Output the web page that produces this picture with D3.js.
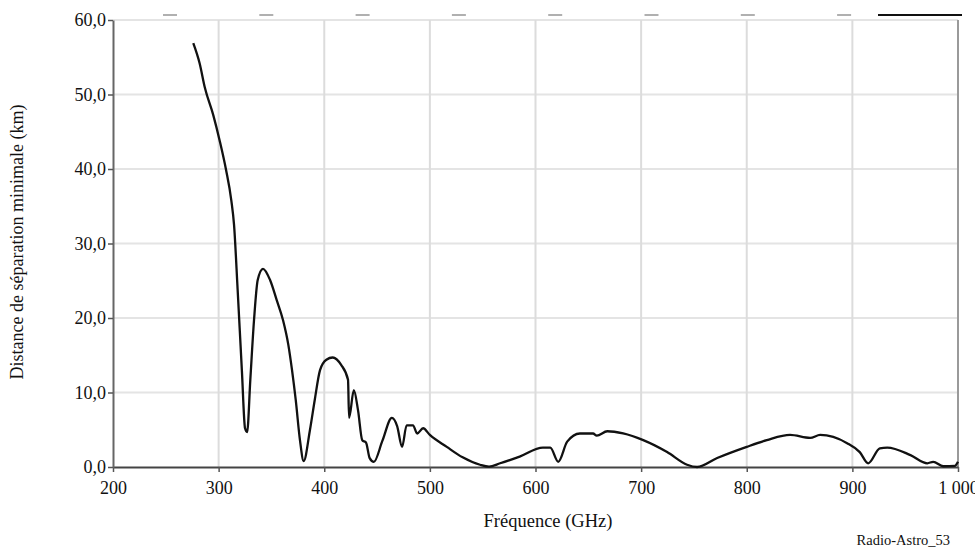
<!DOCTYPE html>
<html>
<head>
<meta charset="utf-8">
<script src="https://cdn.jsdelivr.net/npm/d3@7"></script>
<style>
  body { margin: 0; background: #fff; overflow: hidden; }
  svg text { font-family: "Liberation Serif", "Times New Roman", serif !important; }
</style>
</head>
<body>
<div class="visHolder"></div>
<script>
// frequency (GHz) and minimum separation distance (km)
const freq = [276, 282, 287, 295, 301, 307, 312, 314.6, 318, 322, 325, 327, 330, 333.5, 337, 342,
  348.7, 355, 361, 366, 369.5, 373, 377, 380.5, 386.5, 391, 396, 402, 408, 416, 422.5, 423.5, 428,
  432, 436, 439.5, 443, 447, 455, 464, 469, 473.7, 478, 484, 488, 493.6, 500, 516, 531, 547.5, 556,
  566.5, 585, 607, 614, 621.5, 630, 642, 654.5, 658, 668, 683, 702, 724.6, 743.5, 753, 772, 800,
  819, 841, 860, 869.5, 895, 907, 915, 926, 933, 955, 971, 976.5, 986, 997, 1000];
const dist = [56.9, 54.2, 50.9, 47.2, 43.8, 39.9, 35.8, 32.5, 23.8, 13, 5.2, 4.7, 11.7, 19.7, 25.1, 26.6,
  25.1, 22.4, 19.7, 16.4, 13, 9, 3.6, 0.8, 5, 9, 13, 14.4, 14.7, 13.7, 11.7, 6.6, 10.3,
  7.6, 3.6, 3.3, 1.2, 0.7, 3.5, 6.6, 5.5, 2.7, 5.6, 5.6, 4.5, 5.2, 4.3, 2.7, 1.3, 0.3, 0.05,
  0.5, 1.4, 2.6, 2.6, 0.7, 3.4, 4.5, 4.5, 4.2, 4.8, 4.5, 3.6, 2.0, 0.3, 0.0, 1.2, 2.7,
  3.6, 4.3, 3.9, 4.3, 3.2, 2.0, 0.5, 2.5, 2.6, 1.6, 0.5, 0.7, 0.1, 0.15, 0.7];

const xTicks = [200, 300, 400, 500, 600, 700, 800, 900, 1000];
const yTicks = [0, 10, 20, 30, 40, 50, 60];

const w = 975;
const h = 549;
const margin = { top: 20, right: 17, bottom: 82, left: 113 };
const serif = "'Liberation Serif', 'Times New Roman', serif";

const xScale = d3.scaleLinear()
  .domain([200, 1000])
  .range([margin.left, w - margin.right]);

const yScale = d3.scaleLinear()
  .domain([0, 60])
  .range([h - margin.bottom, margin.top]);

const svg = d3.select(".visHolder")
  .append("svg")
  .attr("width", w)
  .attr("height", h)
  .attr("font-family", serif);

// legend remnants along the top edge
svg.append("g")
  .selectAll("line")
  .data(d3.range(8))
  .enter()
  .append("line")
  .attr("x1", i => 163 + i * 96.3)
  .attr("x2", i => 177 + i * 96.3)
  .attr("y1", 15)
  .attr("y2", 15)
  .attr("stroke", "#b0b0b0")
  .attr("stroke-width", 2);

svg.append("line")
  .attr("x1", 878).attr("x2", 962)
  .attr("y1", 15).attr("y2", 15)
  .attr("stroke", "#111")
  .attr("stroke-width", 2);

// grid
svg.append("g")
  .selectAll("line")
  .data(yTicks.slice(1))
  .enter()
  .append("line")
  .attr("x1", margin.left)
  .attr("x2", w - margin.right)
  .attr("y1", d => yScale(d))
  .attr("y2", d => yScale(d))
  .attr("stroke", "#e4e4e4")
  .attr("stroke-width", 2);

svg.append("g")
  .selectAll("line")
  .data(xTicks.slice(1, -1))
  .enter()
  .append("line")
  .attr("x1", d => xScale(d))
  .attr("x2", d => xScale(d))
  .attr("y1", margin.top)
  .attr("y2", h - margin.bottom)
  .attr("stroke", "#dcdcdc")
  .attr("stroke-width", 2);

// right frame
svg.append("line")
  .attr("x1", xScale(1000)).attr("x2", xScale(1000))
  .attr("y1", margin.top).attr("y2", h - margin.bottom)
  .attr("stroke", "#9a9a9a")
  .attr("stroke-width", 2);

// axes
const xAxis = d3.axisBottom(xScale)
  .tickValues(xTicks)
  .tickSize(5)
  .tickSizeOuter(0)
  .tickFormat(d => d === 1000 ? "1 000" : d);

const gx = svg.append("g")
  .attr("id", "x-axis")
  .attr("transform", `translate(0, ${h - margin.bottom})`)
  .call(xAxis)
  .attr("font-family", serif)
  .attr("font-size", 18);
gx.select(".domain").attr("stroke", "#444").attr("stroke-width", 2);
gx.selectAll(".tick line").attr("stroke", "#555").attr("stroke-width", 1.5);
gx.selectAll(".tick text")
  .attr("y", 14)
  .attr("fill", "#111");

const yAxis = d3.axisLeft(yScale)
  .tickValues(yTicks)
  .tickSize(5)
  .tickSizeOuter(0)
  .tickFormat(d => d.toFixed(1).replace(".", ","));

const gy = svg.append("g")
  .attr("id", "y-axis")
  .attr("transform", `translate(${margin.left}, 0)`)
  .call(yAxis)
  .attr("font-family", serif)
  .attr("font-size", 18);
gy.select(".domain").attr("stroke", "#666").attr("stroke-width", 2);
gy.selectAll(".tick line").attr("stroke", "#555").attr("stroke-width", 1.5);
gy.selectAll(".tick text")
  .attr("x", -7)
  .attr("fill", "#111");

// curve
const points = freq.map((f, i) => [f, dist[i]]);
const line = d3.line()
  .x(d => xScale(d[0]))
  .y(d => yScale(d[1]))
  .curve(d3.curveMonotoneX);

svg.append("path")
  .datum(points)
  .attr("d", line)
  .attr("fill", "none")
  .attr("stroke", "#111")
  .attr("stroke-width", 2.3)
  .attr("stroke-linejoin", "round");

// titles
svg.append("text")
  .attr("x", 548)
  .attr("y", 527)
  .attr("text-anchor", "middle")
  .attr("font-size", 18.5)
  .attr("fill", "#111")
  .text("Fréquence (GHz)");

svg.append("text")
  .attr("transform", `translate(23, ${yScale(30.2)}) rotate(-90)`)
  .attr("text-anchor", "middle")
  .attr("font-size", 18)
  .attr("fill", "#111")
  .text("Distance de séparation minimale (km)");

svg.append("text")
  .attr("x", 950)
  .attr("y", 545)
  .attr("text-anchor", "end")
  .attr("font-size", 14.5)
  .attr("fill", "#111")
  .text("Radio-Astro_53");
</script>
</body>
</html>
